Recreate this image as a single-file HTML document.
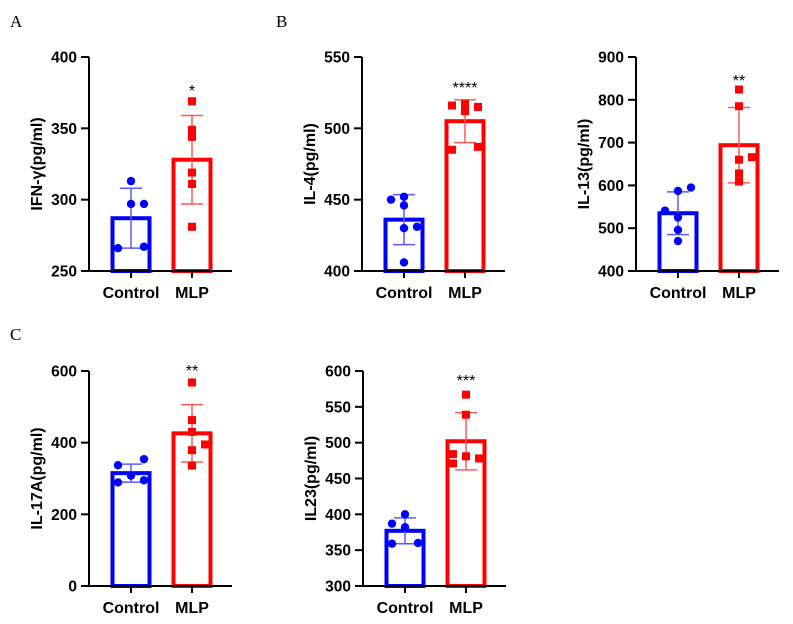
<!DOCTYPE html>
<html><head><meta charset="utf-8"><style>
html,body{margin:0;padding:0;background:#fff;}
svg{display:block;font-family:"Liberation Sans",Arial,sans-serif;}
.tk{font-size:15.5px;font-weight:bold;fill:#000;}
.xl{font-size:16px;font-weight:bold;fill:#000;}
.yt{font-size:16px;font-weight:bold;fill:#000;}
.pl{font-family:"Liberation Serif",serif;font-size:17px;fill:#000;}
</style></head><body>
<svg id="fig" width="793" height="624" viewBox="0 0 793 624">
<text class="pl" x="10" y="27">A</text>
<text class="pl" x="276" y="27">B</text>
<text class="pl" x="10" y="340">C</text>
</svg>
<script>
// ---- data ----
const categories = ["Control", "MLP"];
const ifnTitle = "IFN-γ(pg/ml)";
const ifnTicks = [250, 300, 350, 400];
const ifnMeans = [287, 328];
const ifnSD = [21, 31];
const ifnControl = [313, 297, 297, 266, 267];
const ifnMLP = [369, 349, 344, 319, 311, 281];
const ifnSig = "*";

const il4Title = "IL-4(pg/ml)";
const il4Ticks = [400, 450, 500, 550];
const il4Means = [436, 505];
const il4SD = [17.5, 15];
const il4Control = [450, 452, 446, 430, 431, 406];
const il4MLP = [516, 517, 512, 515, 485, 487];
const il4Sig = "****";

const il13Title = "IL-13(pg/ml)";
const il13Ticks = [400, 500, 600, 700, 800, 900];
const il13Means = [535, 694];
const il13SD = [50, 88];
const il13Control = [541, 587, 595, 525, 496, 470];
const il13MLP = [824, 785, 660, 666, 628, 609];
const il13Sig = "**";

const il17Title = "IL-17A(pg/ml)";
const il17Ticks = [0, 200, 400, 600];
const il17Means = [315, 426];
const il17SD = [25, 80];
const il17Control = [337, 354, 308, 295, 289];
const il17MLP = [568, 463, 430, 395, 379, 336];
const il17Sig = "**";

const il23Title = "IL23(pg/ml)";
const il23Ticks = [300, 350, 400, 450, 500, 550, 600];
const il23Means = [377, 502];
const il23SD = [18, 40];
const il23Control = [400, 387, 382, 359, 360];
const il23MLP = [567, 539, 484, 481, 478, 471];
const il23Sig = "***";

// jitter offsets (layout, px)
const jitC5a = [0, 0, 13, -13, 13];
const jitM6a = [0, 0, 0, 0, 0, 0];
const jitC6b = [-13, 0, 0, 0, 13, 0];
const jitM6b = [-13, 0, 0, 13, -13, 13];
const jitC6c = [-13, 0, 13, 0, 0, 0];
const jitM6c = [0, 0, 0, 13, 0, 0];
const jitC5d = [-13, 13, 0, 13, -13];
const jitM6d = [0, 0, 0, 13, 0, 0];
const jitC5e = [0, -13, 0, -13, 13];
const jitM6e = [0, 0, -13, 0, 13, -13];

const NS = "http://www.w3.org/2000/svg";
const svg = document.getElementById("fig");
function mk(tag, attrs, parent) {
  const e = document.createElementNS(NS, tag);
  for (const k in attrs) e.setAttribute(k, attrs[k]);
  (parent || svg).appendChild(e);
  return e;
}

function chart(cfg) {
  const g = mk("g", {});
  
  
  const ax = cfg.ax, top = cfg.top, bot = cfg.bot;
  const t = cfg.ticks, lo = t[0], hi = t[t.length - 1];
  const y = v => bot - (v - lo) / (hi - lo) * (bot - top);
  const xc = [ax + 42, ax + 103];
  const colors = ["#0000ff", "#ff0000"];
  const light = ["#5a5aff", "#ff5a5a"];
  // bars
  for (let i = 0; i < 2; i++) {
    const b = mk("rect", {x: xc[i] - 18.5, y: y(cfg.means[i]), width: 37, height: bot - y(cfg.means[i]), fill: "none", stroke: colors[i], "stroke-width": 4}, g);
    
    
  }
  // error bars
  for (let i = 0; i < 2; i++) {
    const eg = mk("g", {stroke: light[i], "stroke-width": 1.5}, g);
    
    
    const y1 = y(cfg.means[i] + cfg.sd[i]), y2 = y(cfg.means[i] - cfg.sd[i]);
    mk("line", {x1: xc[i], x2: xc[i], y1: y1, y2: y2}, eg);
    mk("line", {x1: xc[i] - 11, x2: xc[i] + 11, y1: y1, y2: y1}, eg);
    mk("line", {x1: xc[i] - 11, x2: xc[i] + 11, y1: y2, y2: y2}, eg);
  }
  // points
  cfg.ctrl.forEach((v, k) => {
    const c = mk("circle", {cx: xc[0] + (cfg.jc[k] || 0), cy: y(v), r: 4.2, fill: "#0000ff"}, g);
    
    
  });
  cfg.mlp.forEach((v, k) => {
    const s = mk("rect", {x: xc[1] + (cfg.jm[k] || 0) - 4, y: y(v) - 4, width: 8, height: 8, fill: "#ff0000"}, g);
    
    
  });
  // axes
  const ag = mk("g", {stroke: "#000", "stroke-width": 2}, g);
  
  
  mk("line", {x1: ax, x2: ax, y1: top, y2: bot + 1}, ag);
  mk("line", {x1: ax - 8, x2: ax + 143, y1: bot, y2: bot}, ag);
  t.forEach(v => {
    mk("line", {x1: ax - 8, x2: ax, y1: y(v), y2: y(v)}, ag);
    const tx = mk("text", {x: ax - 12, y: y(v) + 5.5, "text-anchor": "end", class: "tk"}, g);
    tx.textContent = v;
    
    
  });
  for (let i = 0; i < 2; i++) {
    mk("line", {x1: xc[i], x2: xc[i], y1: bot, y2: bot + 7}, ag);
    const xl = mk("text", {x: xc[i], y: bot + 27, "text-anchor": "middle", class: "xl"}, g);
    xl.textContent = categories[i];
    
    
  }
  const cy = (top + bot) / 2, tx = ax - 47;
  const yt = mk("text", {x: tx, y: cy, transform: `rotate(-90 ${tx} ${cy})`, "text-anchor": "middle", class: "yt"}, g);
  yt.textContent = cfg.title;
  
  
  const st = mk("text", {x: xc[1], y: cfg.sigY, "text-anchor": "middle", "font-size": 16, fill: "#000"}, g);
  st.textContent = cfg.sig;
  
  
}

chart({name: "chart-ifn-gamma", ax: 89, top: 57, bot: 271, ticks: ifnTicks, means: ifnMeans, sd: ifnSD, ctrl: ifnControl, mlp: ifnMLP, jc: jitC5a, jm: jitM6a, title: ifnTitle, sig: ifnSig, sigY: 96});
chart({name: "chart-il-4", ax: 362, top: 57, bot: 271, ticks: il4Ticks, means: il4Means, sd: il4SD, ctrl: il4Control, mlp: il4MLP, jc: jitC6b, jm: jitM6b, title: il4Title, sig: il4Sig, sigY: 93});
chart({name: "chart-il-13", ax: 636, top: 57, bot: 271, ticks: il13Ticks, means: il13Means, sd: il13SD, ctrl: il13Control, mlp: il13MLP, jc: jitC6c, jm: jitM6c, title: il13Title, sig: il13Sig, sigY: 86});
chart({name: "chart-il-17a", ax: 89, top: 371, bot: 586, ticks: il17Ticks, means: il17Means, sd: il17SD, ctrl: il17Control, mlp: il17MLP, jc: jitC5d, jm: jitM6d, title: il17Title, sig: il17Sig, sigY: 376});
chart({name: "chart-il-23", ax: 363, top: 371, bot: 586, ticks: il23Ticks, means: il23Means, sd: il23SD, ctrl: il23Control, mlp: il23MLP, jc: jitC5e, jm: jitM6e, title: il23Title, sig: il23Sig, sigY: 386});
</script>
</body></html>
